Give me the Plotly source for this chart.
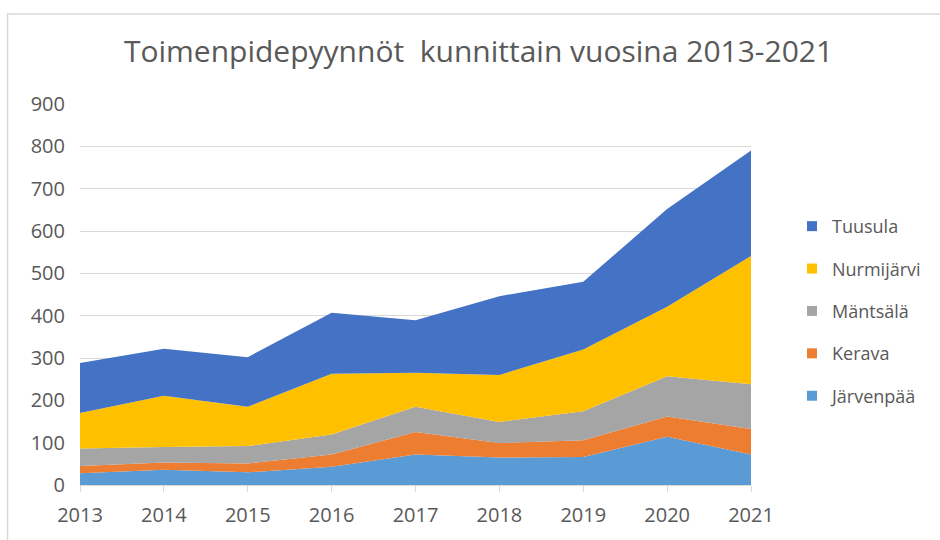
import plotly.graph_objects as go

years = [2013, 2014, 2015, 2016, 2017, 2018, 2019, 2020, 2021]
jarvenpaa = [28, 36, 30, 43, 72, 65, 66, 114, 72]
kerava = [17, 17, 21, 29, 53, 34, 40, 48, 60]
mantsala = [41, 37, 41, 47, 60, 50, 68, 95, 106]
nurmijarvi = [84, 121, 93, 144, 80, 111, 146, 164, 303]
tuusula = [118, 111, 117, 144, 124, 186, 160, 231, 249]

series = [
    ("Järvenpää", jarvenpaa, "#5b9bd5"),
    ("Kerava", kerava, "#ed7d31"),
    ("Mäntsälä", mantsala, "#a5a5a5"),
    ("Nurmijärvi", nurmijarvi, "#ffc000"),
    ("Tuusula", tuusula, "#4472c4"),
]

fig = go.Figure()
for name, vals, col in series:
    fig.add_trace(go.Scatter(
        x=years, y=vals, name=name, mode="lines",
        stackgroup="one", line=dict(width=0, color=col),
        fillcolor=col, showlegend=False, hoverinfo="x+y+name",
    ))
# legend entries with square keys, Tuusula first
for name, vals, col in reversed(series):
    fig.add_trace(go.Scatter(
        x=[None], y=[None], name=name, mode="markers",
        marker=dict(symbol="square", size=10, color=col),
        legendgroup=name, showlegend=True,
    ))

W, H = 940, 540
L, R, T, B = 80, 189, 104, 42
pw, ph = W - L - R, H - T - B

fig.update_layout(
    width=W, height=H,
    margin=dict(l=L, r=R, t=T, b=B),
    paper_bgcolor="white", plot_bgcolor="white",
    font=dict(family="Open Sans, sans-serif", color="#595959", size=18),
    title=dict(text="Toimenpidepyynnöt  kunnittain vuosina 2013-2021",
               x=478.5 / W, xanchor="center", y=1 - 51 / H, yanchor="middle",
               font=dict(size=30, color="#595959", family="Open Sans, sans-serif")),
    legend=dict(traceorder="grouped", x=(792 - L) / pw, xanchor="left",
                y=(H - B - 318) / ph, yanchor="middle",
                font=dict(size=18, color="#595959"), tracegroupgap=16,
                itemwidth=30, bgcolor="rgba(0,0,0,0)"),
    xaxis=dict(range=[2013, 2021], tickvals=years, ticktext=[str(y) for y in years],
               showgrid=False, showline=True, linecolor="#d9d9d9", linewidth=1,
               ticks="outside", ticklen=6, tickcolor="#d9d9d9", zeroline=False,
               ticklabelstandoff=6,
               tickfont=dict(size=20, color="#595959")),
    yaxis=dict(range=[0, 900], dtick=100, showgrid=True, gridcolor="#d9d9d9",
               gridwidth=1, zeroline=False, showline=False, ticks="",
               ticklabelstandoff=14,
               tickfont=dict(size=20, color="#595959")),
    shapes=[dict(type="rect", xref="paper", yref="paper",
                 x0=(7.5 - L) / pw, x1=(W + 20 - L) / pw,
                 y0=(H - B - (H + 20)) / ph, y1=(H - B - 11) / ph,
                 line=dict(color="#d9d9d9", width=1.5), fillcolor="rgba(0,0,0,0)",
                 layer="below")],
)

fig.write_html("out.html", config={"displayModeBar": False},
               post_script="document.body.style.margin='0';document.body.style.overflow='hidden';")
